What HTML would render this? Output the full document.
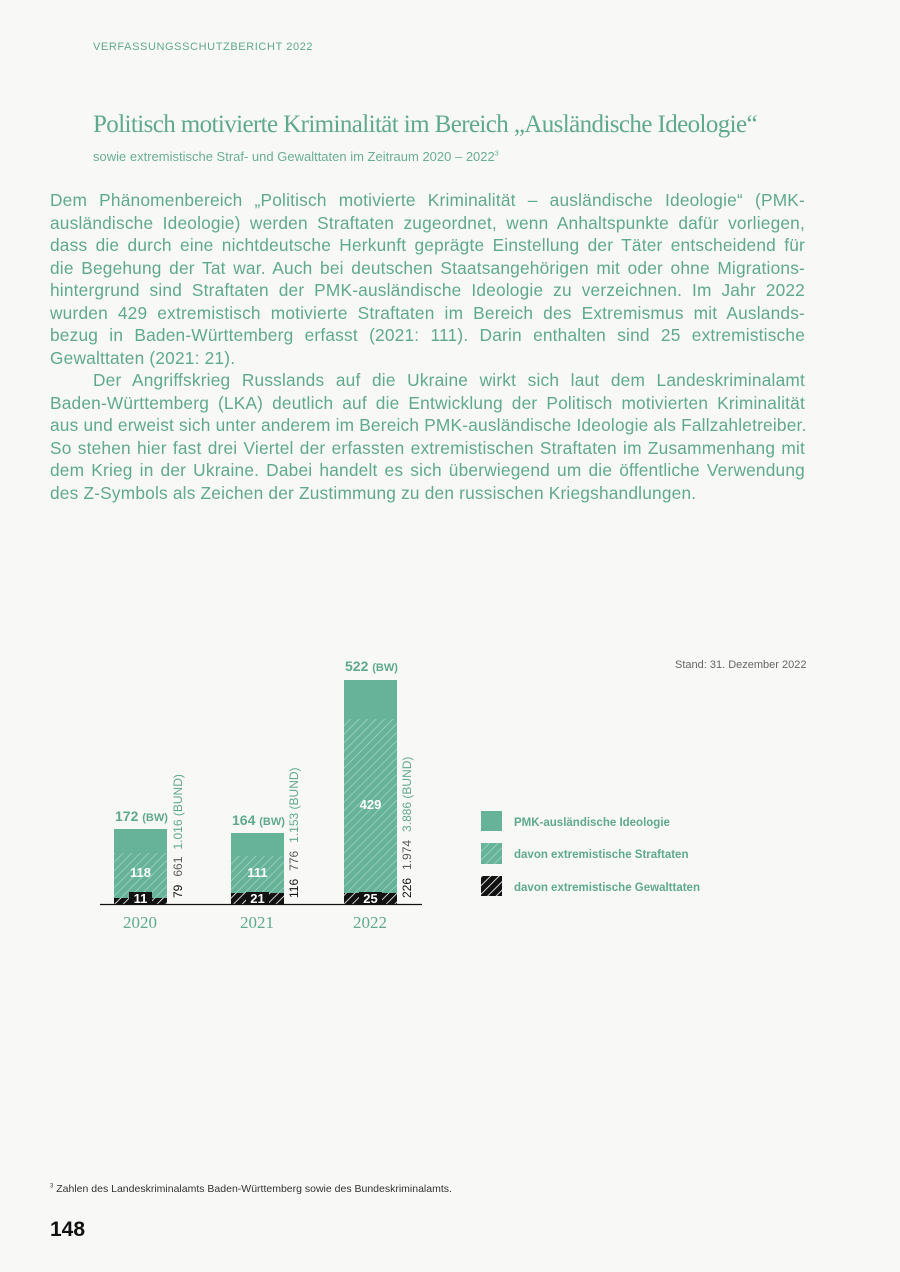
<!DOCTYPE html>
<html><head><meta charset="utf-8"><style>
body{margin:0;background:#f8f8f7;width:900px;height:1272px;position:relative;font-family:"Liberation Sans",sans-serif;overflow:hidden}
.a{position:absolute;white-space:nowrap}
.g{color:#5fa98d}
#body{position:absolute;left:50px;top:189px;width:755px;font-size:17.3px;line-height:22.5px;color:#5fa98d;font-weight:300;letter-spacing:0.2px}
#body div{text-align:justify;text-align-last:justify;white-space:nowrap}
#body div.l{text-align-last:left}
</style></head><body>
<div class="a g" style="left:93px;top:41px;font-size:11px;letter-spacing:0.6px">VERFASSUNGSSCHUTZBERICHT 2022</div>
<div class="a g" style="left:93px;top:111px;font-family:'Liberation Serif',serif;font-size:25px;letter-spacing:-0.6px">Politisch motivierte Kriminalität im Bereich „Ausländische Ideologie“</div>
<div class="a g" style="left:93px;top:149px;font-size:13px;color:#6aae94">sowie extremistische Straf- und Gewalttaten im Zeitraum 2020 – 2022<sup style="font-size:7px">3</sup></div>
<div id="body">
<div>Dem Phänomenbereich „Politisch motivierte Kriminalität – ausländische Ideologie“ (PMK-</div>
<div>ausländische Ideologie) werden Straftaten zugeordnet, wenn Anhaltspunkte dafür vorliegen,</div>
<div>dass die durch eine nichtdeutsche Herkunft geprägte Einstellung der Täter entscheidend für</div>
<div>die Begehung der Tat war. Auch bei deutschen Staatsangehörigen mit oder ohne Migrations-</div>
<div>hintergrund sind Straftaten der PMK-ausländische Ideologie zu verzeichnen. Im Jahr 2022</div>
<div>wurden 429 extremistisch motivierte Straftaten im Bereich des Extremismus mit Auslands-</div>
<div>bezug in Baden-Württemberg erfasst (2021: 111). Darin enthalten sind 25 extremistische</div>
<div class="l">Gewalttaten (2021: 21).</div>
<div style="padding-left:43px">Der Angriffskrieg Russlands auf die Ukraine wirkt sich laut dem Landeskriminalamt</div>
<div>Baden-Württemberg (LKA) deutlich auf die Entwicklung der Politisch motivierten Kriminalität</div>
<div>aus und erweist sich unter anderem im Bereich PMK-ausländische Ideologie als Fallzahletreiber.</div>
<div>So stehen hier fast drei Viertel der erfassten extremistischen Straftaten im Zusammenhang mit</div>
<div>dem Krieg in der Ukraine. Dabei handelt es sich überwiegend um die öffentliche Verwendung</div>
<div class="l">des Z-Symbols als Zeichen der Zustimmung zu den russischen Kriegshandlungen.</div>
</div>
<div class="a" style="left:675px;top:659px;font-size:11px;color:#666">Stand: 31. Dezember 2022</div>
<svg class="a" style="left:0;top:0" width="900" height="1272">
<defs>
<pattern id="h" width="6" height="6" patternUnits="userSpaceOnUse" patternTransform="rotate(45)"><rect width="6" height="6" fill="#66b39a"/><line x1="0" y1="0" x2="0" y2="6" stroke="#a9d6c5" stroke-width="1.4"/></pattern>
<pattern id="k" width="6" height="6" patternUnits="userSpaceOnUse" patternTransform="rotate(45)"><rect width="6" height="6" fill="#111"/><line x1="0" y1="0" x2="0" y2="6" stroke="#fff" stroke-width="1.6"/></pattern>
</defs>
<g font-family="Liberation Sans" font-weight="bold">
<rect x="114" y="829" width="53" height="24" fill="#66b39a"/><rect x="114" y="853" width="53" height="45" fill="url(#h)"/><rect x="114" y="898" width="53" height="6" fill="url(#k)"/><rect x="129" y="892" width="23" height="12" fill="#111"/>
<text x="140.5" y="877" fill="#fff" font-size="13" text-anchor="middle">118</text><text x="140.5" y="903" fill="#fff" font-size="13" text-anchor="middle">11</text>
<text x="115" y="821" fill="#5fa98d" font-size="14">172 <tspan font-size="11">(BW)</tspan></text>
<rect x="231" y="833" width="53" height="23" fill="#66b39a"/><rect x="231" y="856" width="53" height="37" fill="url(#h)"/><rect x="231" y="893" width="53" height="11" fill="url(#k)"/><rect x="246" y="892" width="23" height="12" fill="#111"/>
<text x="257.5" y="877" fill="#fff" font-size="13" text-anchor="middle">111</text><text x="257.5" y="903" fill="#fff" font-size="13" text-anchor="middle">21</text>
<text x="232" y="825" fill="#5fa98d" font-size="14">164 <tspan font-size="11">(BW)</tspan></text>
<rect x="344" y="680" width="53" height="39" fill="#66b39a"/><rect x="344" y="719" width="53" height="174" fill="url(#h)"/><rect x="344" y="893" width="53" height="11" fill="url(#k)"/><rect x="359" y="892" width="23" height="12" fill="#111"/>
<text x="370.5" y="809" fill="#fff" font-size="13" text-anchor="middle">429</text><text x="370.5" y="903" fill="#fff" font-size="13" text-anchor="middle">25</text>
<text x="345" y="671" fill="#5fa98d" font-size="14">522 <tspan font-size="11">(BW)</tspan></text>
</g>
<line x1="100" y1="904.5" x2="422" y2="904.5" stroke="#111" stroke-width="1.3"/>
<g font-family="Liberation Sans" font-size="12">
<text transform="translate(182,898) rotate(-90)"><tspan fill="#111">79</tspan><tspan dx="8" fill="#5a5a5a">661</tspan><tspan dx="8" fill="#5fa98d">1.016 (BUND)</tspan></text>
<text transform="translate(298,898) rotate(-90)"><tspan fill="#111">116</tspan><tspan dx="8" fill="#5a5a5a">776</tspan><tspan dx="8" fill="#5fa98d">1.153 (BUND)</tspan></text>
<text transform="translate(411,898) rotate(-90)"><tspan fill="#111">226</tspan><tspan dx="8" fill="#5a5a5a">1.974</tspan><tspan dx="8" fill="#5fa98d">3.886 (BUND)</tspan></text>
</g>
<g font-family="Liberation Serif" font-size="17" fill="#5fa98d" text-anchor="middle">
<text x="140" y="928">2020</text><text x="257" y="928">2021</text><text x="370" y="928">2022</text>
</g>
<rect x="481" y="811" width="21" height="20" fill="#66b39a"/>
<rect x="481" y="843" width="21" height="21" fill="url(#h)"/>
<rect x="481" y="876" width="21" height="20" fill="url(#k)"/>
<g font-family="Liberation Sans" font-weight="bold" font-size="11.5" fill="#5fa98d">
<text x="514" y="826">PMK-ausländische Ideologie</text>
<text x="514" y="858">davon extremistische Straftaten</text>
<text x="514" y="891">davon extremistische Gewalttaten</text>
</g>
</svg>
<div class="a" style="left:50px;top:1183px;font-size:10.5px;color:#333"><sup style="font-size:6px">3</sup> Zahlen des Landeskriminalamts Baden-Württemberg sowie des Bundeskriminalamts.</div>
<div class="a" style="left:50px;top:1218px;font-size:21px;font-weight:bold;color:#111">148</div>
</body></html>
